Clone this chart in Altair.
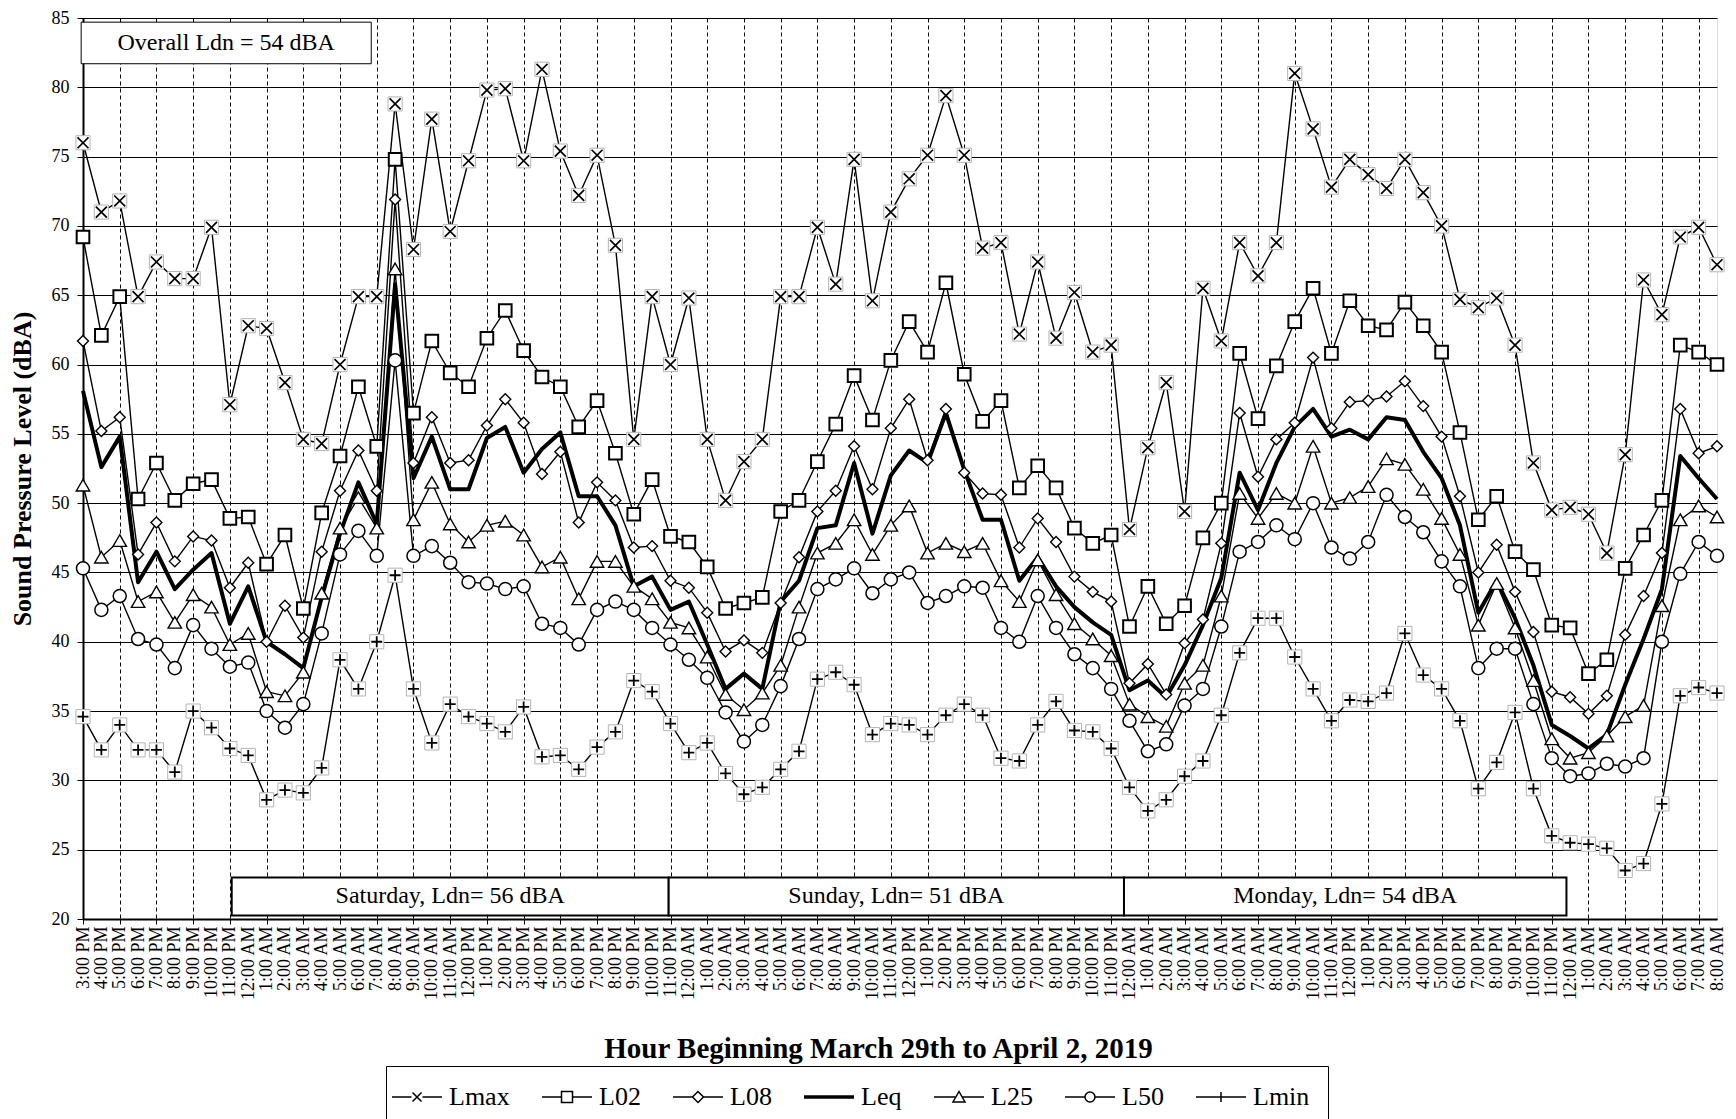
import altair as alt
import pandas as pd

# ---------------- tick labels (hour beginning, 3:00 PM Mar 29 -> 8:00 AM Apr 2) ----------------
def _lab(h):
    h12 = h % 12
    h12 = 12 if h12 == 0 else h12
    return f"{h12}:00 {'AM' if h < 12 else 'PM'}"

hour_labels = [_lab((15 + i) % 24) for i in range(90)]
hour_index = list(range(90))

series_names = ["Lmax", "L02", "L08", "Leq", "L25", "L50", "Lmin"]

lmax = [76.0, 71.0, 71.8, 64.9, 67.4, 66.2, 66.2, 69.9, 57.1, 62.8,
        62.6, 58.7, 54.6, 54.3, 60.0, 64.9, 64.9, 78.8, 68.3, 77.7,
        69.6, 74.7, 79.8, 79.9, 74.7, 81.3, 75.4, 72.2, 75.1, 68.6,
        54.6, 64.9, 60.0, 64.8, 54.6, 50.2, 53.0, 54.6, 64.9, 64.9,
        69.9, 65.8, 74.8, 64.6, 71.0, 73.4, 75.1, 79.4, 75.1, 68.4,
        68.8, 62.2, 67.4, 61.9, 65.2, 60.9, 61.4, 48.1, 54.0, 58.7,
        49.4, 65.5, 61.7, 68.8, 66.4, 68.8, 81.0, 77.0, 72.8, 74.8,
        73.7, 72.7, 74.8, 72.4, 70.0, 64.7, 64.1, 64.8, 61.4, 52.9,
        49.5, 49.7, 49.2, 46.4, 53.5, 66.1, 63.6, 69.2, 69.9, 67.2]

l02 = [69.2, 62.1, 64.9, 50.3, 52.9, 50.2, 51.4, 51.7, 48.9, 49.0,
       45.6, 47.7, 42.4, 49.3, 53.4, 58.4, 54.1, 74.8, 56.5, 61.7,
       59.4, 58.4, 61.9, 63.9, 61.0, 59.1, 58.4, 55.5, 57.4, 53.6,
       49.2, 51.7, 47.6, 47.2, 45.4, 42.4, 42.8, 43.2, 49.4, 50.2,
       53.0, 55.7, 59.2, 56.0, 60.3, 63.1, 60.9, 65.9, 59.3, 55.9,
       57.4, 51.1, 52.7, 51.1, 48.2, 47.1, 47.7, 41.1, 44.0, 41.3,
       42.6, 47.5, 50.0, 60.8, 56.1, 59.9, 63.1, 65.5, 60.8, 64.6,
       62.8, 62.5, 64.5, 62.8, 60.9, 55.1, 48.8, 50.5, 46.5, 45.2,
       41.2, 41.0, 37.7, 38.7, 45.3, 47.7, 50.2, 61.4, 60.9, 60.0]

l08 = [61.7, 55.2, 56.2, 46.3, 48.6, 45.8, 47.6, 47.3, 43.9, 45.7,
       40.0, 42.6, 40.3, 46.5, 50.9, 53.8, 50.9, 71.9, 52.9, 56.2,
       52.9, 53.1, 55.6, 57.5, 55.8, 52.1, 53.7, 48.6, 51.5, 50.2,
       46.8, 46.9, 44.4, 43.9, 42.1, 39.3, 40.1, 39.2, 42.8, 46.1,
       49.4, 50.9, 54.1, 51.0, 55.4, 57.5, 53.1, 56.8, 52.2, 50.7,
       50.6, 46.8, 48.9, 47.2, 44.7, 43.6, 42.9, 37.0, 38.4, 36.2,
       39.9, 41.6, 47.1, 56.5, 51.9, 54.6, 55.8, 60.5, 55.4, 57.3,
       57.4, 57.7, 58.8, 57.0, 54.8, 50.5, 45.0, 47.0, 43.6, 40.7,
       36.4, 36.0, 34.8, 36.1, 40.5, 43.3, 46.4, 56.8, 53.6, 54.1]

leq = [58.1, 52.6, 54.8, 44.3, 46.5, 43.8, 45.2, 46.4, 41.3, 44.0,
       40.0, 39.1, 38.1, 43.2, 47.8, 51.5, 48.5, 65.8, 51.8, 54.8,
       51.0, 51.0, 54.7, 55.5, 52.2, 53.9, 55.1, 50.5, 50.5, 48.4,
       44.0, 44.7, 42.3, 42.9, 39.8, 36.6, 37.7, 36.6, 42.9, 44.4,
       48.2, 48.4, 52.9, 47.8, 52.0, 53.8, 52.9, 56.5, 52.4, 48.8,
       48.8, 44.4, 46.1, 44.0, 42.5, 41.4, 40.5, 36.5, 37.2, 36.0,
       38.3, 41.2, 44.6, 52.2, 49.5, 52.9, 55.5, 56.8, 54.8, 55.3,
       54.6, 56.2, 56.0, 53.7, 51.8, 48.4, 42.1, 44.4, 41.7, 38.3,
       34.0, 33.2, 32.3, 33.3, 36.9, 40.2, 43.8, 53.4, 51.8, 50.3]

l25 = [51.3, 46.1, 47.3, 42.9, 43.6, 41.4, 43.4, 42.5, 39.8, 40.6,
       36.4, 36.1, 37.8, 43.5, 48.2, 50.4, 48.2, 66.9, 48.8, 51.5,
       48.5, 47.2, 48.4, 48.7, 47.7, 45.4, 46.1, 43.1, 45.8, 45.8,
       44.0, 43.1, 41.4, 41.0, 38.9, 36.2, 35.1, 36.3, 38.3, 42.5,
       46.4, 47.1, 48.8, 46.3, 48.4, 49.8, 46.4, 47.1, 46.5, 47.1,
       44.4, 42.9, 45.9, 43.4, 41.3, 40.2, 39.0, 35.5, 34.6, 33.9,
       37.0, 38.3, 43.3, 50.7, 48.9, 50.7, 50.0, 54.1, 50.0, 50.4,
       51.2, 53.2, 52.8, 51.0, 48.9, 46.3, 41.2, 44.2, 41.0, 37.2,
       33.0, 31.6, 32.0, 33.2, 34.6, 35.4, 42.6, 48.8, 49.8, 49.0]

l50 = [45.3, 42.3, 43.3, 40.2, 39.8, 38.1, 41.2, 39.5, 38.2, 38.5,
       35.0, 33.8, 35.5, 40.6, 46.3, 48.0, 46.2, 60.3, 46.2, 46.9,
       45.7, 44.3, 44.2, 43.8, 44.0, 41.3, 41.0, 39.8, 42.3, 42.9,
       42.3, 41.0, 39.8, 38.7, 37.4, 34.9, 32.8, 34.0, 36.8, 40.2,
       43.8, 44.5, 45.3, 43.5, 44.5, 45.0, 42.8, 43.3, 44.0, 43.9,
       41.0, 40.0, 43.3, 41.0, 39.1, 38.1, 36.6, 34.3, 32.1, 32.6,
       35.4, 36.6, 41.1, 46.5, 47.2, 48.4, 47.4, 50.0, 46.8, 46.0,
       47.2, 50.6, 49.0, 47.9, 45.8, 44.0, 38.1, 39.5, 39.5, 35.5,
       31.6, 30.3, 30.5, 31.2, 31.0, 31.6, 40.0, 44.9, 47.2, 46.2]

lmin = [34.6, 32.2, 34.0, 32.2, 32.2, 30.6, 35.0, 33.8, 32.3, 31.8,
        28.6, 29.3, 29.1, 30.9, 38.7, 36.6, 40.0, 44.8, 36.6, 32.7,
        35.5, 34.6, 34.1, 33.5, 35.3, 31.7, 31.8, 30.8, 32.4, 33.5,
        37.2, 36.4, 34.1, 32.0, 32.7, 30.5, 29.0, 29.5, 30.8, 32.1,
        37.3, 37.8, 36.9, 33.3, 34.1, 34.0, 33.3, 34.7, 35.5, 34.7,
        31.6, 31.4, 34.0, 35.7, 33.6, 33.5, 32.3, 29.5, 27.8, 28.6,
        30.3, 31.4, 34.7, 39.2, 41.7, 41.7, 38.9, 36.6, 34.3, 35.8,
        35.7, 36.3, 40.6, 37.6, 36.6, 34.3, 29.4, 31.3, 34.9, 29.4,
        26.0, 25.5, 25.4, 25.1, 23.5, 24.0, 28.3, 36.1, 36.7, 36.3]

# annotation boxes (in data coordinates)
note_labels = ["Overall Ldn = 54 dBA", "Saturday, Ldn= 56 dBA",
               "Sunday, Ldn= 51 dBA", "Monday, Ldn= 54 dBA"]
note_x0 = [-0.1, 8.1, 31.9, 56.7]
note_x1 = [15.7, 31.9, 56.7, 80.8]
note_y0 = [81.7, 20.25, 20.25, 20.25]
note_y1 = [84.7, 23.0, 23.0, 23.0]
note_w = [1.0, 2.0, 2.0, 2.0]

# ---------------- data frames ----------------
all_series = dict(zip(series_names, [lmax, l02, l08, leq, l25, l50, lmin]))
rows = []
for name, vals in all_series.items():
    for i, v in zip(hour_index, vals):
        rows.append({"idx": i, "series": name, "value": v})
df = pd.DataFrame(rows)

notes = pd.DataFrame({
    "label": note_labels, "x0": note_x0, "x1": note_x1,
    "y0": note_y0, "y1": note_y1, "w": note_w,
})
notes["xc"] = (notes["x0"] + notes["x1"]) / 2
notes["yc"] = (notes["y0"] + notes["y1"]) / 2

FONT = "Liberation Serif"
W, H = 1634, 901

label_expr = "[" + ",".join("'" + s + "'" for s in hour_labels) + "][datum.value]"

x_scale = alt.Scale(domain=[0, 89], nice=False, zero=False)
y_scale = alt.Scale(domain=[20, 85], nice=False, zero=False)

x_axis = alt.Axis(
    values=hour_index, labelExpr=label_expr, labelAngle=270, labelOverlap=False,
    labelFlush=False, labelFont=FONT, labelFontSize=18, labelColor="black",
    labelPadding=2, tickSize=5, tickColor="black", tickWidth=1,
    tickOpacity={"condition": {"test": "datum.value % 2 === 0", "value": 1}, "value": 0},
    grid=True, gridColor="black", gridWidth=1, gridDash=[4, 3],
    gridOpacity={"condition": {"test": "datum.value % 2 === 0", "value": 1}, "value": 0},
    domainColor="black", domainWidth=2,
    title="Hour Beginning March 29th to April 2, 2019", titleFont=FONT,
    titleFontSize=29, titleFontWeight="bold", titleColor="black",
    titleX=795, titleY=129, titleBaseline="middle", titleAlign="center",
)
y_axis = alt.Axis(
    values=list(range(20, 86, 5)), labelFont=FONT, labelFontSize=18,
    labelColor="black", labelPadding=8, tickSize=6, tickColor="black",
    grid=True, gridColor="black", gridWidth=1, gridOpacity=1,
    domainColor="black", domainWidth=2,
    title="Sound Pressure Level (dBA)", titleFont=FONT, titleFontSize=26,
    titleFontWeight="bold", titleColor="black", titleX=-61, titleBaseline="middle",
)

X = alt.X("idx:Q", scale=x_scale, axis=x_axis)
Y = alt.Y("value:Q", scale=y_scale, axis=y_axis)

base = alt.Chart(df)

# annotation boxes
boxes = alt.Chart(notes).mark_rect(fill="white", stroke="black").encode(
    x=alt.X("x0:Q", scale=x_scale, axis=x_axis),
    x2="x1:Q",
    y=alt.Y("y0:Q", scale=y_scale, axis=y_axis),
    y2="y1:Q",
    strokeWidth=alt.StrokeWidth("w:Q", scale=None, legend=None),
)
box_text = alt.Chart(notes).mark_text(font=FONT, fontSize=24, color="black").encode(
    x=alt.X("xc:Q", scale=x_scale, axis=x_axis),
    y=alt.Y("yc:Q", scale=y_scale, axis=y_axis),
    text="label:N",
)

thin_lines = base.transform_filter("datum.series != 'Leq'").mark_line(
    color="black", strokeWidth=1.4
).encode(x=X, y=Y, detail="series:N")

leq_line = base.transform_filter("datum.series == 'Leq'").mark_line(
    color="black", strokeWidth=4, strokeJoin="round"
).encode(x=X, y=Y)

X_PATH = "M-1,-1L1,1M-1,1L1,-1"
PLUS_PATH = "M-1,0L1,0M0,-1L0,1"

marker_style = {
    "Lmax": dict(shape=X_PATH, size=120, strokeWidth=1.7),
    "L02": dict(shape="square", size=160, strokeWidth=2.0),
    "L08": dict(shape="diamond", size=120, strokeWidth=1.4),
    "L25": dict(shape="triangle-up", size=180, strokeWidth=1.4),
    "L50": dict(shape="circle", size=170, strokeWidth=1.5),
    "Lmin": dict(shape=PLUS_PATH, size=120, strokeWidth=1.8),
}

marker_layers = []
for name in ["Lmax", "Lmin"]:
    marker_layers.append(
        base.transform_filter(f"datum.series == '{name}'").mark_point(
            shape="square", size=200, filled=True, fill="white", stroke="#b4b4b4",
            strokeWidth=1, opacity=1
        ).encode(x=X, y=Y)
    )
for name in ["Lmax", "L02", "L08", "L25", "L50", "Lmin"]:
    st = marker_style[name]
    marker_layers.append(
        base.transform_filter(f"datum.series == '{name}'").mark_point(
            shape=st["shape"], size=st["size"], filled=True, fill="white",
            stroke="black", strokeWidth=st["strokeWidth"], opacity=1
        ).encode(x=X, y=Y)
    )

legend_paths = [
    "M-2.5,0L-0.55,0M0.55,0L2.5,0M-0.45,-0.45L0.45,0.45M-0.45,0.45L0.45,-0.45",
    "M-2.5,0L-0.55,0M0.55,0L2.5,0M-0.55,-0.55L0.55,-0.55L0.55,0.55L-0.55,0.55Z",
    "M-2.5,0L-0.55,0M0.55,0L2.5,0M0,-0.55L0.55,0L0,0.55L-0.55,0Z",
    "M-2.5,-0.1L2.5,-0.1M-2.5,0L2.5,0M-2.5,0.1L2.5,0.1",
    "M-2.5,0L-0.3,0M0.3,0L2.5,0M0,-0.55L0.6,0.5L-0.6,0.5Z",
    "M-2.5,0L-0.5,0M0.5,0L2.5,0M0.5,0A0.5,0.5 0 1,1 -0.5,0A0.5,0.5 0 1,1 0.5,0Z",
    "M-2.5,0L2.5,0M0,-0.5L0,0.5",
]

legend_layer = base.transform_filter("false").mark_point(
    filled=False, color="black", strokeWidth=1.5, opacity=1
).encode(
    x=X, y=Y,
    shape=alt.Shape(
        "series:N",
        scale=alt.Scale(domain=series_names, range=legend_paths),
        legend=alt.Legend(
            title=None, orient="none", legendX=303, legendY=1048,
            direction="horizontal", columns=7, strokeColor="black",
            fillColor="white", padding=18, symbolSize=400,
            symbolStrokeWidth=1.5, symbolStrokeColor="black",
            labelFont=FONT, labelFontSize=26, labelColor="black",
            labelOffset=19, columnPadding=29,
        ),
    ),
)

chart = alt.layer(
    thin_lines, leq_line, *marker_layers, boxes, box_text, legend_layer
).properties(
    width=W, height=H,
    autosize=alt.AutoSizeParams(type="none"),
    padding={"left": 75, "top": 10, "right": 11, "bottom": 230},
).configure_view(
    stroke="black", strokeWidth=1
).configure(font=FONT, background="white")

chart.save("out.html", embed_options={"renderer": "svg", "actions": False})
